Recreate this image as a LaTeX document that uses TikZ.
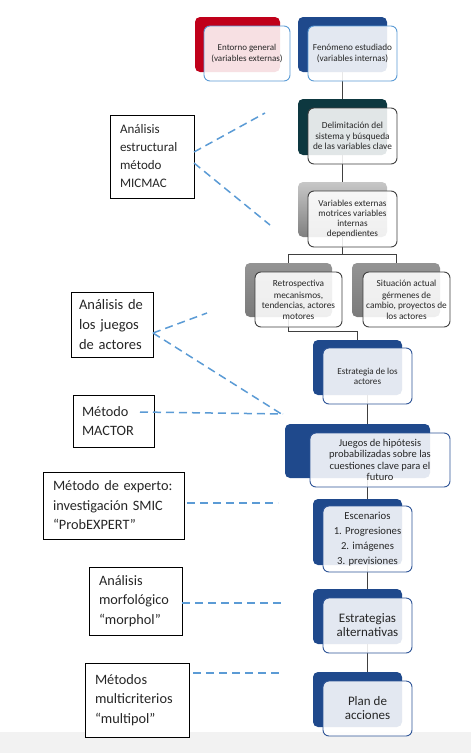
\documentclass[tikz,border=0pt]{standalone}
\usepackage{fontspec}
\setmainfont{Carlito}
\usetikzlibrary{backgrounds}
\definecolor{redB}{RGB}{192,0,26}
\definecolor{blueB}{RGB}{31,73,140}
\definecolor{tealB}{RGB}{13,56,64}
\definecolor{ltblue}{RGB}{91,155,213}
\definecolor{dkline}{RGB}{64,64,64}
\definecolor{blueline}{RGB}{47,85,151}
\definecolor{dashblue}{RGB}{91,155,213}
\definecolor{txt}{RGB}{38,38,38}
\begin{document}
\begin{tikzpicture}[x=1pt,y=-1pt,
  every node/.style={inner sep=0pt, outer sep=0pt},
  backbox/.style={rounded corners=5pt, draw=none},
  frontbox/.style={rounded corners=6pt, fill=white, fill opacity=0.88, text opacity=1,
    line width=0.9pt, align=center, text=txt},
  lbframe/.style={draw=ltblue},
  dkframe/.style={draw=dkline},
  bframe/.style={draw=blueline},
  leftbox/.style={draw=black, line width=0.8pt, fill=white, align=left, inner xsep=10pt,
    text=txt, font=\fontsize{14.3}{19.5}\selectfont},
  conn/.style={draw=dkline, line width=0.9pt},
  dashline/.style={draw=dashblue, line width=1.5pt, dash pattern=on 8pt off 5pt},
  graygrad/.style={top color=black!22, bottom color=black!50},
  midgray/.style={top color=black!42, bottom color=black!52}
]
\useasboundingbox (0,0) rectangle (471,753);
\fill[black!5] (0,732) rectangle (471,753);

% back boxes
\node[backbox, fill=redB, minimum width=85pt, minimum height=55pt] (entB) at (237.5,44.5) {};
\node[backbox, fill=blueB, minimum width=89pt, minimum height=55pt] (fenB) at (342.5,44.5) {};
\node[backbox, fill=tealB, minimum width=89pt, minimum height=56pt] (delimB) at (342.5,127) {};
\node[backbox, graygrad, minimum width=89pt, minimum height=55pt] (varB) at (342.5,209.5) {};
\node[backbox, midgray, minimum width=87pt, minimum height=54pt] (retroB) at (288.5,290) {};
\node[backbox, midgray, minimum width=88pt, minimum height=54pt] (sitB) at (396,290) {};
\node[backbox, fill=blueB, minimum width=89pt, minimum height=55pt] (estB) at (357.5,367.5) {};
\node[backbox, fill=blueB, minimum width=145pt, minimum height=54pt] (juegosB) at (357.5,451) {};
\node[backbox, fill=blueB, minimum width=89pt, minimum height=66pt] (escB) at (357.5,532) {};
\node[backbox, fill=blueB, minimum width=89pt, minimum height=55pt] (altB) at (357.5,616.5) {};
\node[backbox, fill=blueB, minimum width=89pt, minimum height=55pt] (planB) at (357.5,699.5) {};

% front boxes
\node[frontbox, lbframe, minimum width=86pt, minimum height=55pt, font=\fontsize{9}{10.5}\selectfont] (ent) at (247,53.5) {Entorno general\\(variables externas)};
\node[frontbox, lbframe, minimum width=89pt, minimum height=55pt, font=\fontsize{9.2}{10.5}\selectfont] (fen) at (352.5,53.5) {Fenómeno estudiado\\(variables internas)};
\node[frontbox, dkframe, minimum width=89pt, minimum height=56pt, font=\fontsize{9.3}{10.2}\selectfont] (delim) at (352.5,136) {Delimitación del\\sistema y búsqueda\\de las variables clave};
\node[frontbox, dkframe, minimum width=89pt, minimum height=56pt, font=\fontsize{9.2}{10}\selectfont] (var) at (352.5,219) {Variables externas\\motrices variables\\internas\\dependientes};
\node[frontbox, dkframe, minimum width=87pt, minimum height=55pt, font=\fontsize{9.3}{10.6}\selectfont] (retro) at (298.5,299.5) {Retrospectiva\\[1.5pt]mecanismos,\\tendencias, actores\\motores};
\node[frontbox, dkframe, minimum width=87pt, minimum height=55pt, font=\fontsize{9.3}{10.6}\selectfont] (sit) at (406.5,299.5) {Situación actual\\[1.5pt]gérmenes de\\cambio, proyectos de\\los actores};
\node[frontbox, bframe, minimum width=89pt, minimum height=56pt, font=\fontsize{9.1}{10.2}\selectfont] (est) at (367.5,376) {Estrategia de los\\actores};
\node[frontbox, bframe, minimum width=140pt, minimum height=54pt, font=\fontsize{10.5}{11.3}\selectfont] (juegos) at (380,460) {Juegos de hipótesis\\probabilizadas sobre las\\cuestiones clave para el\\futuro};
\node[frontbox, bframe, minimum width=89pt, minimum height=66pt, font=\fontsize{10.7}{15}\selectfont] (esc) at (367.5,539) {Escenarios\\1. Progresiones\\2. imágenes\\3. previsiones};
\node[frontbox, bframe, minimum width=89pt, minimum height=55pt, font=\fontsize{13}{14}\selectfont] (alt) at (367.5,625.5) {Estrategias\\alternativas};
\node[frontbox, bframe, minimum width=89pt, minimum height=55pt, font=\fontsize{13}{14}\selectfont] (plan) at (367.5,708.5) {Plan de\\acciones};

% left boxes
\node[leftbox, text width=64pt, minimum height=83pt, font=\fontsize{13}{18}\selectfont] (mic) at (152,156.5) {Análisis\\estructural\\método\\MICMAC};
\node[leftbox, inner xsep=8pt, text width=66pt, minimum height=65pt, font=\fontsize{14.5}{20}\selectfont] (jac) at (112,324.5) {Análisis~de\\los~juegos\\de~actores};
\node[leftbox, inner xsep=9pt, text width=63pt, minimum height=52pt] (mac) at (113.5,421) {Método\\MACTOR};
\node[leftbox, text width=121pt, minimum height=67pt] (smic) at (113.5,505.5) {Método~de~experto:\\investigación~SMIC\\“ProbEXPERT”};
\node[leftbox, text width=73pt, minimum height=68pt] (mor) at (135.5,601) {Análisis\\morfológico\\“morphol”};
\node[leftbox, text width=84pt, minimum height=74pt] (mul) at (137,700) {Métodos\\multicriterios\\“multipol”};

% free ends of dashed lines
\coordinate (m1) at (265,113);
\coordinate (m2) at (270,225);
\coordinate (j1) at (207,313);
\coordinate (j2) at (283,415);
\coordinate (a1) at (283,414);
\coordinate (s1) at (278,503);
\coordinate (o1) at (283,603);
\coordinate (u1) at (283,673);
\coordinate (br1) at (342.5,254);
\coordinate (br2) at (288.5,331);

\begin{pgfonlayer}{background}
\draw[conn] (fenB.south) -- (delimB.north);
\draw[conn] (delimB.south) -- (varB.north);
\draw[conn] (varB.south) -- (br1) -| (retroB.north);
\draw[conn] (br1) -| (sitB.north);
\draw[conn] (retroB.south) -- (br2) -| (estB.north);
\draw[conn] (est.south |- estB.south) -- (est.south |- juegosB.north);
\draw[conn] (esc.north |- juegosB.south) -- (esc.north |- escB.north);
\draw[conn] (esc.south |- escB.south) -- (esc.south |- altB.north);
\draw[conn] (alt.south |- altB.south) -- (alt.south |- planB.north);
\end{pgfonlayer}

\draw[dashline] ([yshift=4.5pt]mic.east) -- (m1);
\draw[dashline] ([yshift=-6.5pt]mic.east) -- (m2);
\draw[dashline] ([yshift=-8.5pt]jac.east) -- (j1);
\draw[dashline] ([yshift=-8.5pt]jac.east) -- (j2);
\draw[dashline] ([xshift=-14pt,yshift=9pt]mac.east) -- (a1);
\draw[dashline] ([xshift=3pt,yshift=2.5pt]smic.east) -- (s1);
\draw[dashline] ([yshift=-2pt]mor.east) -- (o1);
\draw[dashline] ([xshift=4pt,yshift=27pt]mul.east) -- (u1);
\end{tikzpicture}
\end{document}
